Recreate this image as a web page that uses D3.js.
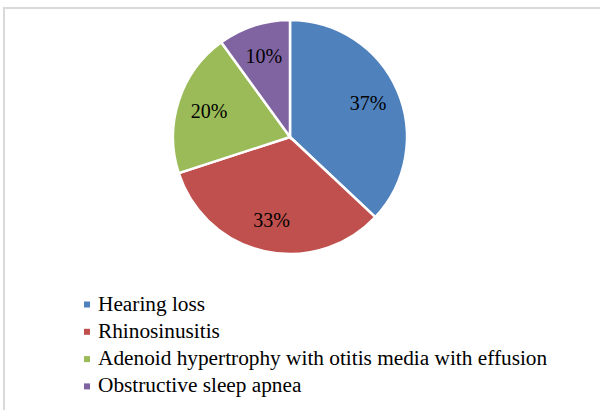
<!DOCTYPE html>
<html>
<head>
<meta charset="utf-8">
<script src="https://cdn.jsdelivr.net/npm/d3@7"></script>
<style>
body { margin: 0; background: #fff; }
svg text { font-family: "Liberation Serif", "DejaVu Serif", "Times New Roman", serif; }
</style>
</head>
<body>
<svg></svg>
<script>
var categories = ["Hearing loss", "Rhinosinusitis", "Adenoid hypertrophy with otitis media with effusion", "Obstructive sleep apnea"];
var values = [37, 33, 20, 10];
var colors = ["#4F81BD", "#C0504D", "#9BBB59", "#8064A2"];

var width = 600, height = 410;
var svg = d3.select("svg").attr("width", width).attr("height", height);

// chart frame
svg.append("rect")
	.attr("x", 4).attr("y", 8)
	.attr("width", 620).attr("height", 420)
	.style("fill", "white")
	.style("stroke", "#d9d9d9")
	.style("stroke-width", 2);

var cx = 290, cy = 137, r = 117;
var pie = d3.pie().sort(null).value(function(d){return d});
var arcs = pie(values);
var arc = d3.arc().innerRadius(0).outerRadius(r);
var labelArc = d3.arc().innerRadius(85).outerRadius(85);

var g = svg.append("g").attr("transform", "translate(" + cx + "," + cy + ")");
g.selectAll("path").data(arcs).enter()
	.append("path")
	.attr("d", arc)
	.style("fill", function(d, i){return colors[i]})
	.style("stroke", "white")
	.style("stroke-width", 2.5);

g.selectAll("text").data(arcs).enter()
	.append("text")
	.attr("transform", function(d){return "translate(" + labelArc.centroid(d) + ")"})
	.attr("text-anchor", "middle")
	.attr("dy", "0.35em")
	.style("font-size", "20px")
	.style("fill", "#000")
	.text(function(d){return d.data + "%"});

// legend
var legend = svg.append("g").attr("transform", "translate(84,310.5)");
var rows = legend.selectAll("g").data(categories).enter()
	.append("g")
	.attr("transform", function(d, i){return "translate(0," + (i * 27.3) + ")"});
rows.append("rect")
	.attr("x", 0).attr("y", -9)
	.attr("width", 6).attr("height", 6)
	.style("fill", function(d, i){return colors[i]});
rows.append("text")
	.attr("x", 14)
	.style("font-size", "21.3px")
	.style("fill", "#000")
	.text(function(d){return d});
</script>
</body>
</html>
